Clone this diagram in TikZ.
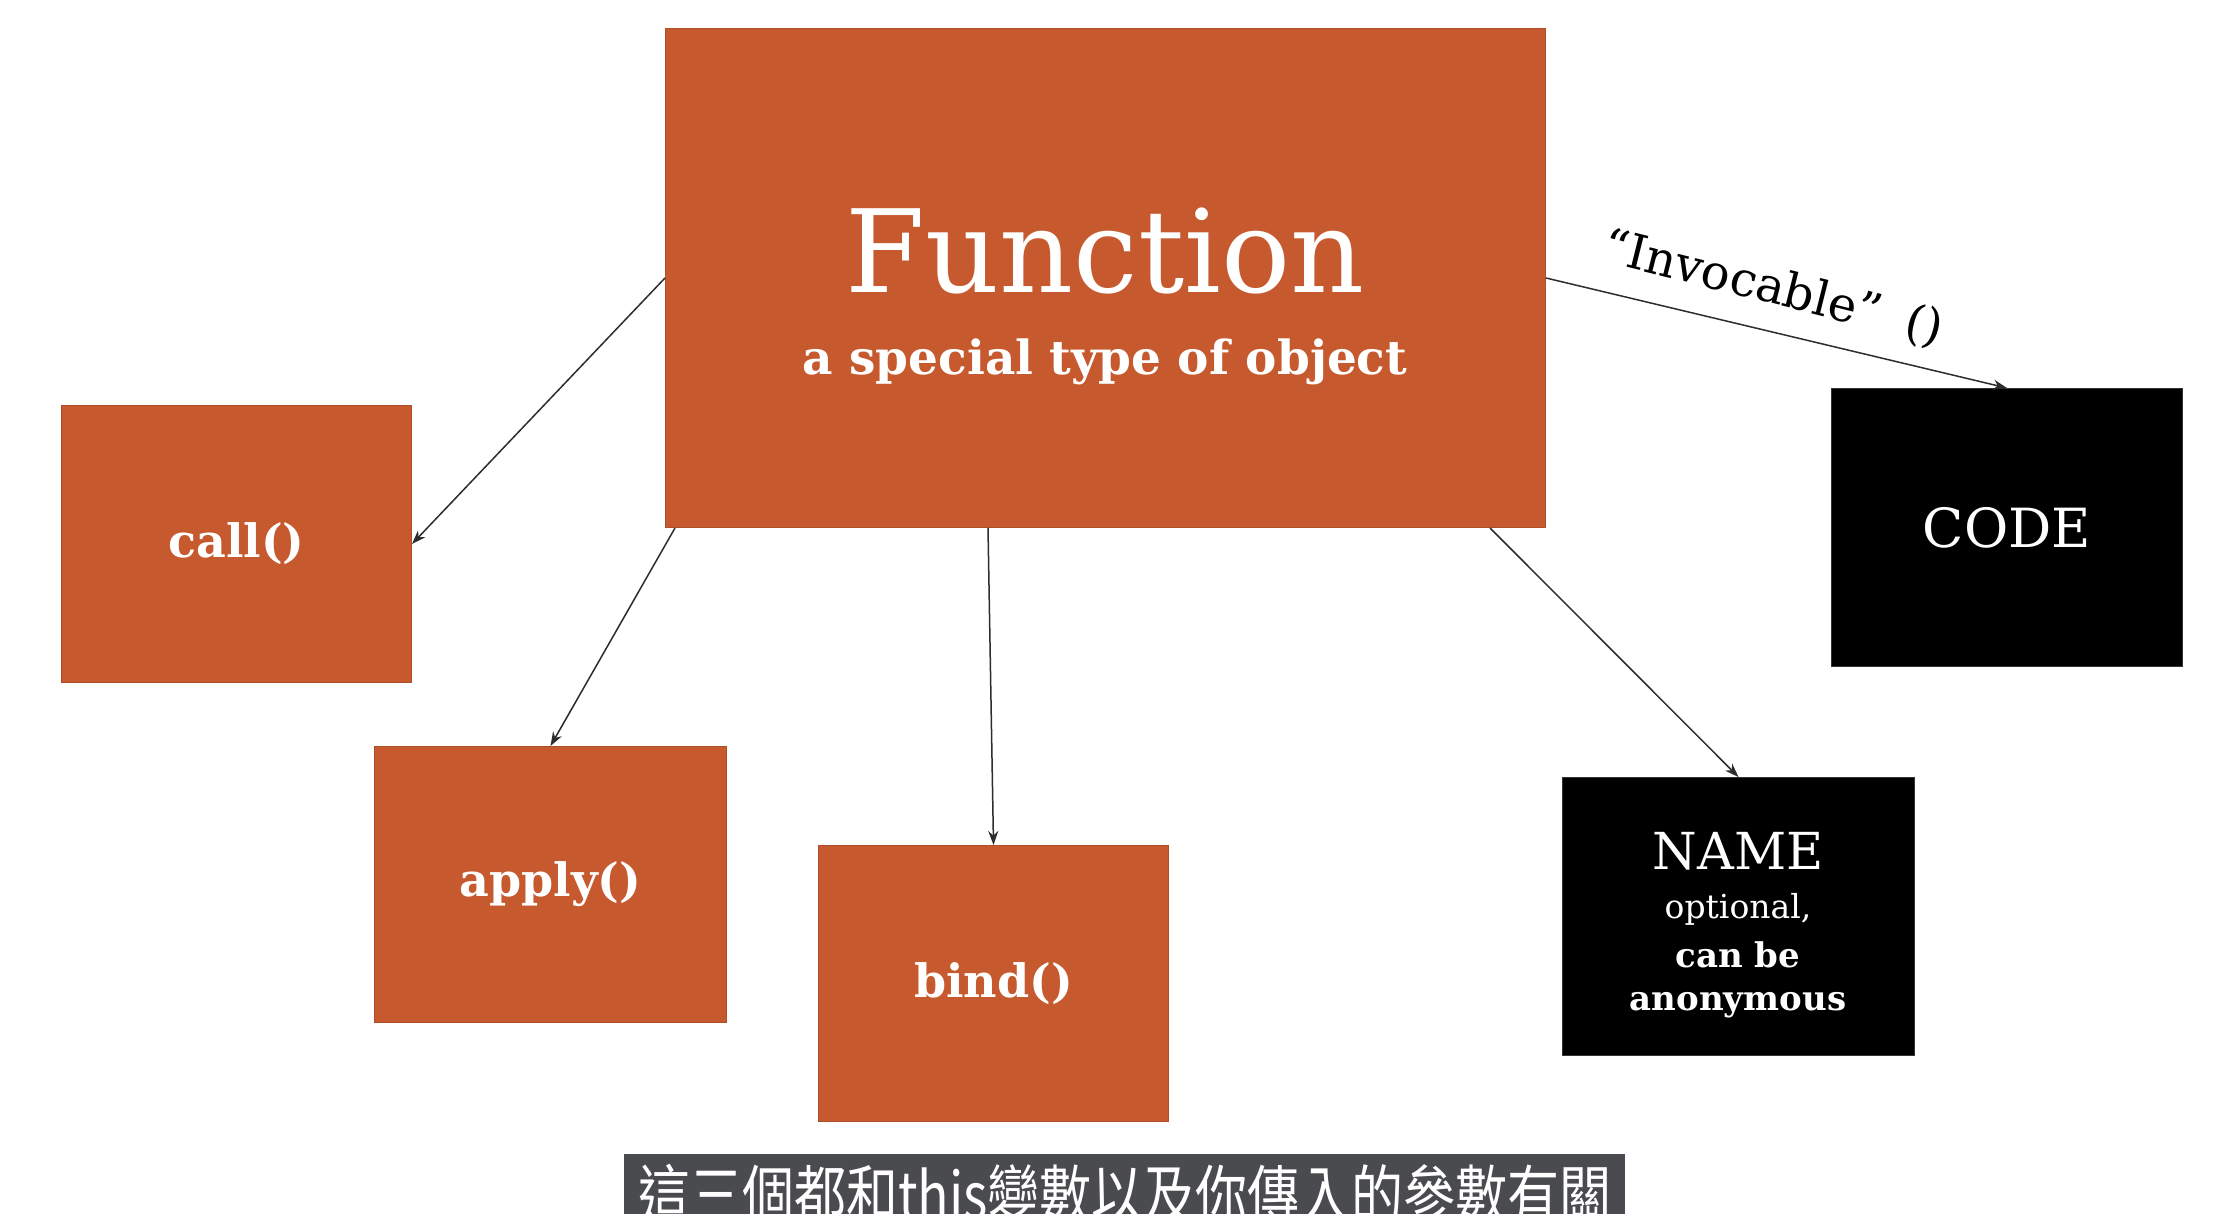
\documentclass[tikz,border=0pt]{standalone}
\usepackage{fontspec}
\setmainfont{DejaVu Serif}
\newfontfamily\cjkfont{Noto Sans CJK TC}
\usetikzlibrary{arrows.meta,calc}
\definecolor{fnorange}{RGB}{198,90,46}
\definecolor{subbar}{RGB}{74,75,79}
\definecolor{linegray}{RGB}{45,45,45}
\begin{document}
\begin{tikzpicture}[x=1pt,y=-1pt,
  obox/.style={fill=fnorange, draw=fnorange!88!black, line width=1pt, inner sep=0pt,
    minimum width=350pt, minimum height=277pt, anchor=north west, text=white,
    font=\fontsize{46}{54}\selectfont\bfseries},
  kbox/.style={fill=black, draw=black!80, line width=1pt, inner sep=0pt,
    minimum width=351pt, minimum height=278pt, anchor=north west, text=white},
  conn/.style={draw=linegray, line width=1.5pt, -{Stealth[length=14pt,width=10pt]}},
  wtext/.style={text=white, inner sep=0pt, anchor=base}
]
\useasboundingbox (0,0) rectangle (2220,1214);
\clip (0,0) rectangle (2220,1214);
\fill[white] (0,0) rectangle (2220,1214);

% boxes
\node[obox, minimum width=880pt, minimum height=499pt] (fn) at (665,28) {};
\node[obox] (call) at (61,405) {call()};
\node[obox, minimum width=352pt, minimum height=276pt] (apply) at (374,746) {apply()};
\node[obox, minimum height=276pt] (bind) at (818,845) {bind()};
\node[kbox, minimum width=352pt] (name) at (1562,777) {};
\node[kbox] (code) at (1831,388) {\fontsize{54}{60}\selectfont CODE};

% function texts
\node[wtext, font=\fontsize{115}{120}\selectfont] (fntitle) at (1105,293) {Function};
\node[wtext, font=\fontsize{47}{52}\selectfont\bfseries] (fnsub) at (1105,375) {a special type of object};

% name texts
\node[wtext, font=\fontsize{51}{56}\selectfont] (nm1) at (1738,869) {NAME};
\node[wtext, font=\fontsize{33}{38}\selectfont] (nm2) at (1738,918) {optional,};
\node[wtext, font=\fontsize{34}{38}\selectfont\bfseries] (nm3) at (1738,967) {can be};
\node[wtext, font=\fontsize{34}{38}\selectfont\bfseries] (nm4) at (1738,1010) {anonymous};

% connectors
\draw[conn] (fn.west) -- (call.east);
\draw[conn] ([xshift=10pt]fn.south west) -- (apply.north);
\draw[conn] ([xshift=323pt]fn.south west) -- (bind.north);
\draw[conn] ([xshift=-56pt]fn.south east) -- (name.north);
\draw[conn] (fn.east) -- (code.north);

% invocable label
\node[inner sep=0pt, rotate=-14, font=\fontsize{48}{54}\selectfont] (invlbl) at (1773,289)
  {“Invocable”\hspace{26pt}()};

% subtitle bar
\fill[subbar] (624,1154) rectangle (1625,1214);
\node[text=white, inner sep=0pt, anchor=base, font=\cjkfont\fontsize{52}{60}\selectfont] (subtitle) at (1125,1219)
  {\scalebox{1}[1.25]{這三個都和this變數以及你傳入的參數有關}};
\end{tikzpicture}
\end{document}
